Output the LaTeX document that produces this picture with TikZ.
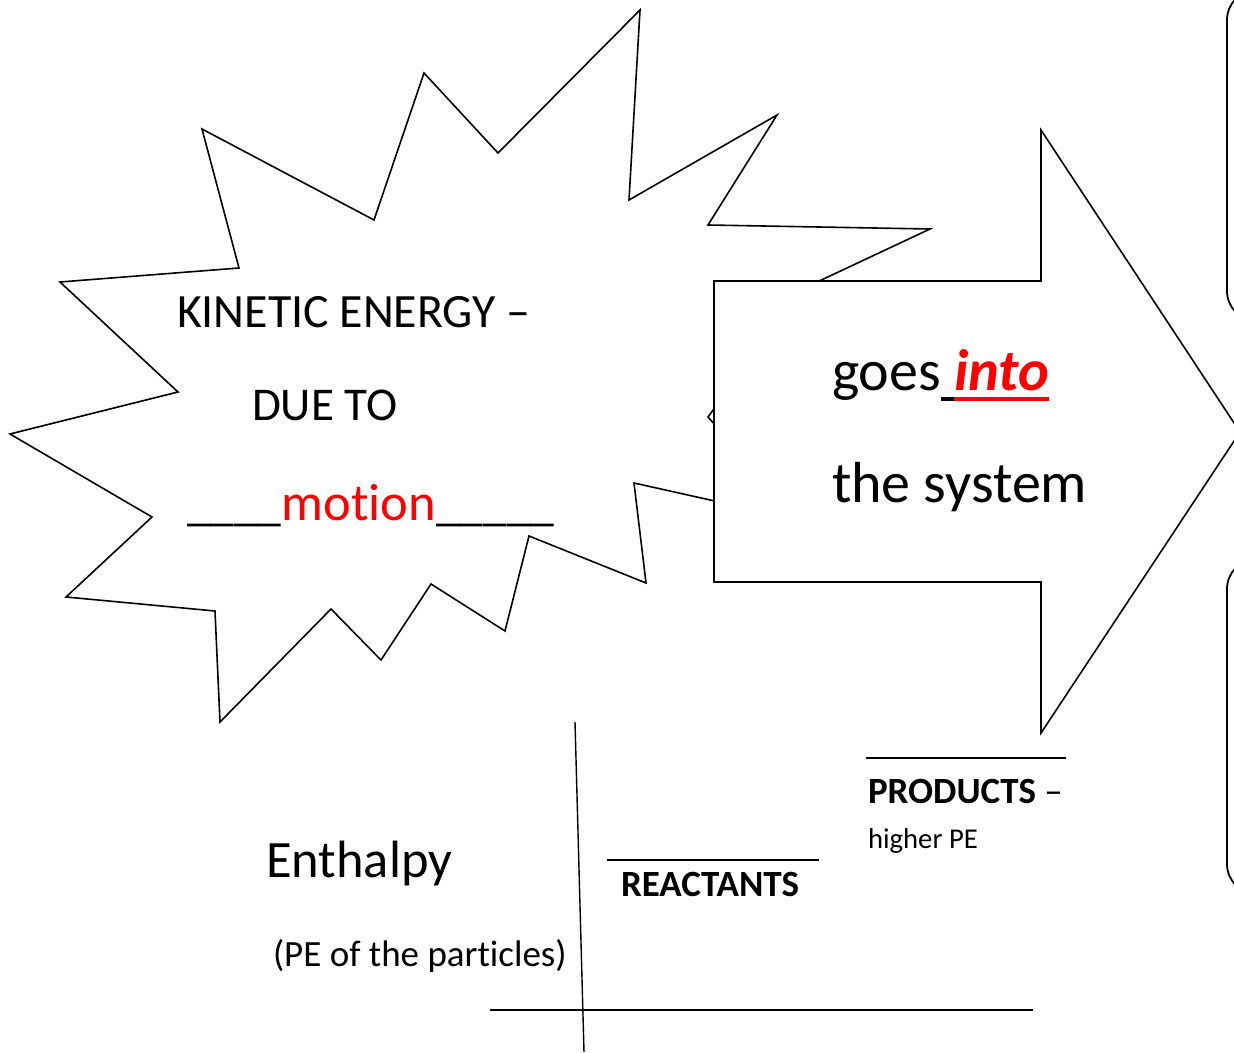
\documentclass[tikz,border=0pt]{standalone}
\usepackage{fontspec}
\setmainfont{Carlito}[Ligatures=NoCommon]
\begin{document}
\begin{tikzpicture}[x=1pt,y=-1pt]
\tikzset{
  outline/.style={draw=black, line width=1.6pt, fill=white, line join=miter},
  roundbox/.style={draw=black, line width=1.8pt, rounded corners=30pt},
  rule/.style={draw=black, line width=1.4pt},
  txt/.style={inner sep=0pt, outer sep=0pt, anchor=base west},
}
\useasboundingbox (0,0) rectangle (1234,1052);
\fill[white] (0,0) rectangle (1234,1052);

% right-hand rounded boxes (partly off page)
\draw[roundbox] (1227,-10) rectangle (1320,321);
\draw[roundbox] (1227,559) rectangle (1320,894);

% explosion star
\draw[outline] (640,10) -- (629,200) -- (777,115) -- (708,225) -- (930,229)
  -- (800,290) -- (708,417) -- (800,520) -- (634,483) -- (646,583)
  -- (529,536) -- (505,631) -- (431,584) -- (381,660) -- (331,609)
  -- (220,722) -- (215,611) -- (66,597) -- (152,517) -- (10,434)
  -- (178,392) -- (60,282) -- (239,268) -- (202,129) -- (374,220)
  -- (424,73) -- (498,153) -- cycle;

% block arrow
\draw[outline] (714,281) -- (1041,281) -- (1041,130) -- (1240,432)
  -- (1041,733) -- (1041,582) -- (714,582) -- cycle;

% star text
\node[txt, font=\fontsize{47.8pt}{56pt}\selectfont] (ke) at (177,327) {KINETIC ENERGY –};
\node[txt, font=\fontsize{47pt}{56pt}\selectfont] (due) at (252,420) {DUE TO};
\node[txt, font=\fontsize{47.5pt}{56pt}\selectfont] (motion) at (187,520)
  {\_\_\_\_{\fontsize{52.5pt}{60pt}\selectfont\color{red}motion}\_\_\_\_\_};

% arrow text
\node[txt, font=\fontsize{58pt}{66pt}\selectfont] (goes) at (832,390) {goes};
\node[txt, font=\fontsize{58.5pt}{66pt}\selectfont\bfseries\itshape, text=red]
  (into) at ([xshift=13pt]goes.base east) {into};
\draw[line width=4.5pt, black] ([yshift=-9pt]goes.base east) -- ([yshift=-9pt]into.base west);
\draw[line width=4.5pt, red] ([yshift=-9pt]into.base west) -- ([yshift=-9pt]into.base east);
\node[txt, font=\fontsize{58pt}{66pt}\selectfont] (system) at (832,502) {the system};

% enthalpy diagram
\coordinate (ytop) at (575,722);
\coordinate (ybot) at (584,1052);
\coordinate (xl) at (490,1010);
\coordinate (xr) at (1033,1010);
\draw[rule] (ytop) -- (ybot);
\draw[rule] (xl) -- (xr);
\coordinate (rl) at (607,860);
\coordinate (rr) at (819,860);
\coordinate (pl) at (866,758);
\coordinate (pr) at (1066,758);
\draw[rule] (rl) -- (rr);
\draw[rule] (pl) -- (pr);

\node[txt, font=\fontsize{52.5pt}{60pt}\selectfont] (enth) at (266,877) {Enthalpy};
\node[txt, font=\fontsize{37pt}{44pt}\selectfont] (pe) at (273,966) {(PE of the particles)};
\node[txt, font=\fontsize{37pt}{44pt}\selectfont\bfseries] (react) at (621,896) {REACTANTS};
\node[txt, font=\fontsize{37pt}{44pt}\selectfont] (prod) at (868,803) {\textbf{PRODUCTS} –};
\node[txt, font=\fontsize{28.7pt}{34pt}\selectfont] (higher) at (868,848) {higher PE};
\end{tikzpicture}
\end{document}
